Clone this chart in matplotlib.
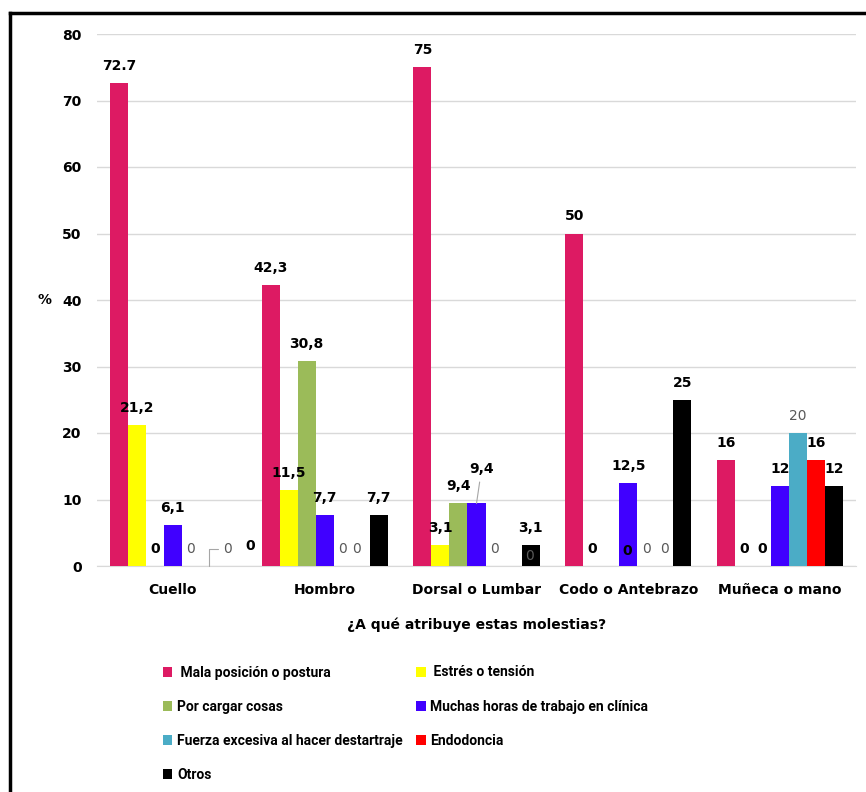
import matplotlib
matplotlib.use("Agg")
import matplotlib.pyplot as plt
import numpy as np
from matplotlib.lines import Line2D

plt.rcParams['font.family'] = ['DejaVu Sans']

categorias = ['Cuello', 'Hombro', 'Dorsal o Lumbar', 'Codo o Antebrazo', 'Muñeca o mano']
series = [' Mala posición o postura', ' Estrés o tensión', 'Por cargar cosas',
          'Muchas horas de trabajo en clínica', 'Fuerza excesiva al hacer destartraje',
          'Endodoncia', 'Otros']
colores = ['#DD1A63', '#FFFF00', '#9BBB59', '#4000FF', '#4BACC6', '#FF0000', '#000000']

mala = [72.7, 42.3, 75, 50, 16]
estres = [21.2, 11.5, 3.1, 0, 0]
cargar = [0, 30.8, 9.4, 0, 0]
horas = [6.1, 7.7, 9.4, 12.5, 12]
fuerza = [0, 0, 0, 0, 20]
endodoncia = [0, 0, 0, 0, 16]
otros = [0, 7.7, 3.1, 25, 12]
valores = [mala, estres, cargar, horas, fuerza, endodoncia, otros]

# etiquetas en gris (sin negrita): fuerza siempre, endodoncia salvo en muñeca
gris = [[False] * 5, [False] * 5, [False] * 5, [False] * 5,
        [True] * 5, [True, True, True, True, False], [False] * 5]

# desplazamientos manuales de algunas etiquetas (px)
mover = {(5, 0): (19, 0), (6, 0): (23, 3), (3, 2): (5, 17),
         (5, 2): (17, -7), (2, 3): (17, -2), (5, 1): (-4, 0)}
guias = {(5, 0): 'angle,angleA=180,angleB=90,rad=0', (3, 2): 'arc3'}


def texto(v, i, j):
    if i == 0 and j == 0:
        return f'{v:g}'
    return f'{v:g}'.replace('.', ',')


fig = plt.figure(figsize=(8.66, 7.92), dpi=100)
ax = fig.add_axes([97 / 866, 1 - 566 / 792, 759 / 866, 532 / 792])

n = len(series)
ancho = 0.1187
x = np.arange(len(categorias))
for i in range(n):
    pos = x + (i - (n - 1) / 2) * ancho
    ax.bar(pos, valores[i], ancho, color=colores[i], label=series[i], zorder=3)
    for j, v in enumerate(valores[i]):
        dx, dy = mover.get((i, j), (0, 0))
        if gris[i][j]:
            estilo = dict(color='#595959', fontweight='normal', fontsize=10)
        else:
            estilo = dict(color='black', fontweight='bold', fontsize=10)
        flecha = None
        if (i, j) in guias:
            flecha = dict(arrowstyle='-', color='#A6A6A6', lw=0.8,
                          connectionstyle=guias[(i, j)], shrinkA=2, shrinkB=0)
        ax.annotate(texto(v, i, j), xy=(pos[j], v), xytext=(dx, 10 + dy),
                    textcoords='offset pixels', ha='center', va='bottom',
                    arrowprops=flecha, zorder=4, **estilo)

ax.set_xlim(-0.5, len(categorias) - 0.5)
ax.set_ylim(0, 80)
ax.set_yticks(np.arange(0, 81, 10))
ax.set_xticks(x)
ax.set_xticklabels(categorias, fontsize=10, fontweight='bold')
ax.tick_params(axis='both', length=0)
ax.tick_params(axis='y', pad=11, labelsize=10)
ax.tick_params(axis='x', pad=12)
for t in ax.get_yticklabels():
    t.set_fontweight('bold')
ax.grid(axis='y', color='#D9D9D9', lw=1, zorder=0)
for s in ['top', 'right', 'left']:
    ax.spines[s].set_visible(False)
ax.spines['bottom'].set_color('#D9D9D9')

fig.text(45 / 866, 1 - 300 / 792, '%', ha='center', va='center',
         fontsize=10, fontweight='bold')
ax.set_xlabel('¿A qué atribuye estas molestias?', fontsize=10, fontweight='bold',
              labelpad=15)

h, l = ax.get_legend_handles_labels()
orden = [0, 2, 4, 6, 1, 3, 5]
ax.legend([h[k] for k in orden], [l[k] for k in orden], ncol=2,
          loc='upper left', bbox_to_anchor=(150 / 866, 1 - 653 / 792),
          bbox_transform=fig.transFigure, frameon=False,
          handlelength=0.7, handleheight=0.7, handletextpad=0.35,
          labelspacing=1.45, columnspacing=0.95,
          prop={'family': 'Roboto', 'weight': 'bold', 'size': 10})

# marco exterior
fig.add_artist(Line2D([10 / 866, 1], [1 - 13 / 792] * 2, color='black', lw=2.5,
                      transform=fig.transFigure))
fig.add_artist(Line2D([10 / 866] * 2, [1 - 13 / 792, 0], color='black', lw=2.5,
                      transform=fig.transFigure))

fig.savefig('out.png', dpi=100)
